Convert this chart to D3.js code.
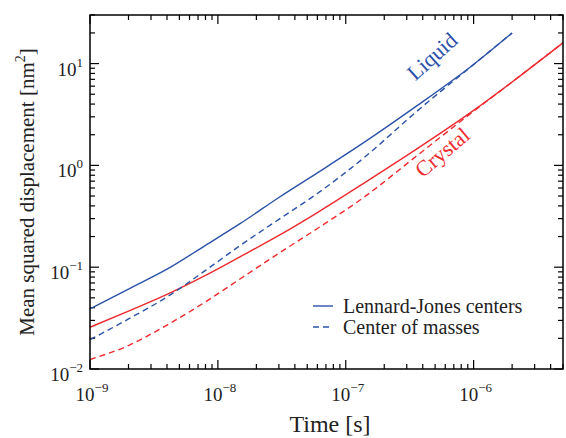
<!DOCTYPE html>
<html>
<head>
<meta charset="utf-8">
<script src="https://cdn.jsdelivr.net/npm/d3@7"></script>
<style>
  body { margin: 0; background: #fff; }
  svg text { font-family: 'Liberation Serif', 'Times New Roman', Times, serif; }
</style>
</head>
<body>
<svg id="chart" width="566" height="438"></svg>
<script>
// time points (s)
var times = [1e-9, 2e-9, 4e-9, 8e-9, 1.5e-8, 3e-8, 6e-8, 1.4e-7, 3.5e-7, 1e-6, 2e-6, 5e-6];

// MSD in nm^2
var liquidLJ   = [0.039, 0.061, 0.0955, 0.164, 0.269, 0.484, 0.845, 1.69, 3.75, 9.8, 20];
var liquidCOM  = [0.0194, 0.031, 0.051, 0.093, 0.164, 0.295, 0.53, 1.2, 3.3, 9.8, 20];
var crystalLJ  = [0.0257, 0.037, 0.054, 0.083, 0.127, 0.205, 0.344, 0.674, 1.42, 3.47, 6.6, 16];
var crystalCOM = [0.0124, 0.017, 0.027, 0.0457, 0.077, 0.137, 0.24, 0.49, 1.21, 3.4, 6.6, 16];

var xTickExps = [-9, -8, -7, -6];
var yTickExps = [-2, -1, 0, 1];

var blue = "#2b52a8", red = "#ec2a2e";

var svg = d3.select("#chart");
var margin = { left: 90, right: 3, top: 15, bottom: 69 };
var W = 566, H = 438;

var x = d3.scaleLog().domain([1e-9, 5e-6]).range([margin.left, W - margin.right]);
var y = d3.scaleLog().domain([0.01, 30]).range([H - margin.bottom, margin.top]);

var x0 = margin.left, x1 = W - margin.right, y0 = H - margin.bottom, y1 = margin.top;

// minor + major ticks
function logTicks(domain) {
  var out = [];
  var lo = Math.floor(Math.log10(domain[0])), hi = Math.ceil(Math.log10(domain[1]));
  for (var e = lo; e <= hi; e++) {
    for (var m = 1; m <= 9; m++) {
      var v = m * Math.pow(10, e);
      if (v >= domain[0] * 0.999 && v <= domain[1] * 1.001) out.push({ v: v, major: m === 1 });
    }
  }
  return out;
}

var ticks = svg.append("g").attr("stroke", "#000").attr("stroke-width", 1.2);
logTicks(x.domain()).forEach(function (t) {
  var len = t.major ? 9 : 5, px = x(t.v);
  ticks.append("line").attr("x1", px).attr("x2", px).attr("y1", y0).attr("y2", y0 - len);
  ticks.append("line").attr("x1", px).attr("x2", px).attr("y1", y1).attr("y2", y1 + len);
});
logTicks(y.domain()).forEach(function (t) {
  var len = t.major ? 9 : 5, py = y(t.v);
  ticks.append("line").attr("x1", x0).attr("x2", x0 + len).attr("y1", py).attr("y2", py);
  ticks.append("line").attr("x1", x1).attr("x2", x1 - len).attr("y1", py).attr("y2", py);
});

// lines
var line = d3.line().x(function (d) { return x(d[0]); }).y(function (d) { return y(d[1]); }).curve(d3.curveMonotoneX);
function draw(vals, color, dashed) {
  var pts = vals.map(function (v, i) { return [times[i], v]; });
  svg.append("path").datum(pts)
    .attr("d", line)
    .attr("fill", "none")
    .attr("stroke", color)
    .attr("stroke-width", 1.4)
    .attr("stroke-dasharray", dashed ? "6,4" : null);
}
draw(crystalCOM, red, true);
draw(crystalLJ, red, false);
draw(liquidCOM, blue, true);
draw(liquidLJ, blue, false);

// frame
svg.append("rect").attr("x", x0).attr("y", y1).attr("width", x1 - x0).attr("height", y0 - y1)
  .attr("fill", "none").attr("stroke", "#000").attr("stroke-width", 1.5);

// tick labels
function powLabel(sel, e) {
  sel.append("tspan").text("10");
  sel.append("tspan").attr("dy", -9).attr("font-size", 13).text(e < 0 ? "\u2212" + (-e) : e);
}
xTickExps.forEach(function (e) {
  var t = svg.append("text").attr("x", x(Math.pow(10, e)) + 2).attr("y", 401)
    .attr("text-anchor", "middle").attr("font-size", 19).attr("fill", "#222");
  powLabel(t, e);
});
yTickExps.forEach(function (e) {
  var t = svg.append("text").attr("x", 83).attr("y", y(Math.pow(10, e)) + 12)
    .attr("text-anchor", "end").attr("font-size", 19).attr("fill", "#222");
  powLabel(t, e);
});

// axis titles
svg.append("text").attr("x", 330).attr("y", 432).attr("text-anchor", "middle")
  .attr("font-size", 24).attr("fill", "#222").text("Time [s]");
var yt = svg.append("text").attr("transform", "translate(34,192) rotate(-90)")
  .attr("text-anchor", "middle").attr("font-size", 21).attr("fill", "#222");
yt.append("tspan").text("Mean squared displacement [nm");
yt.append("tspan").attr("dy", -9).attr("font-size", 14).text("2");
yt.append("tspan").attr("dy", 9).text("]");

// series labels
svg.append("text").attr("transform", "translate(437,62) rotate(-42)")
  .attr("text-anchor", "middle").attr("font-size", 22).attr("fill", blue).text("Liquid");
svg.append("text").attr("transform", "translate(447,158) rotate(-40)")
  .attr("text-anchor", "middle").attr("font-size", 22).attr("fill", red).text("Crystal");

// legend
var legend = [{ name: "Lennard-Jones centers", dash: null }, { name: "Center of masses", dash: "6,4" }];
legend.forEach(function (l, i) {
  var ly = 306 + i * 21;
  svg.append("line").attr("x1", 313).attr("x2", 333).attr("y1", ly).attr("y2", ly)
    .attr("stroke", blue).attr("stroke-width", 1.4).attr("stroke-dasharray", l.dash);
  svg.append("text").attr("x", 343).attr("y", ly + 7).attr("font-size", 20).attr("fill", "#222").text(l.name);
});
</script>
</body>
</html>
